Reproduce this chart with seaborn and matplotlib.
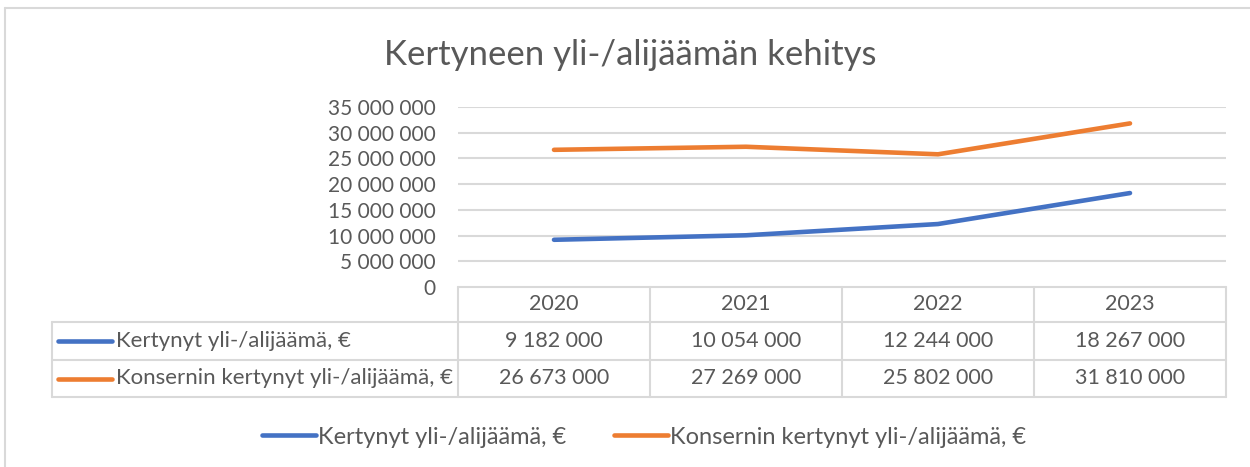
import pandas as pd
import seaborn as sns
import matplotlib.pyplot as plt
from matplotlib.lines import Line2D

years = ["2020", "2021", "2022", "2023"]
kertynyt = [9182000, 10054000, 12244000, 18267000]
konserni = [26673000, 27269000, 25802000, 31810000]
series_names = ["Kertynyt yli-/alijäämä, €", "Konsernin kertynyt yli-/alijäämä, €"]
y_ticks = [0, 5000000, 10000000, 15000000, 20000000, 25000000, 30000000, 35000000]
title = "Kertyneen yli-/alijäämän kehitys"

colors = ["#4472C4", "#ED7D31"]
text_col = "#595959"
grid_col = "#D9D9D9"


def fmt(v):
    return f"{v:,}".replace(",", " ")


df = pd.DataFrame({
    "pos": list(range(len(years))) * 2,
    "value": kertynyt + konserni,
    "series": [series_names[0]] * len(years) + [series_names[1]] * len(years),
})

sns.set_theme(style="white")
plt.rcParams["font.family"] = ["Lato", "DejaVu Sans"]

W, H = 1250, 467
fig = plt.figure(figsize=(W / 100, H / 100), dpi=100)

# chart border
fig.add_artist(Line2D([5 / W, 5 / W], [0, 1 - 8 / H], color=grid_col, lw=1.5))
fig.add_artist(Line2D([5 / W, 1], [1 - 8 / H, 1 - 8 / H], color=grid_col, lw=1.5))

ax = fig.add_axes([458 / W, 1 - 287 / H, 768 / W, 180 / H])
tax = fig.add_axes([458 / W, 1 - 397 / H, 768 / W, 110 / H], sharex=ax)

sns.lineplot(data=df, x="pos", y="value", hue="series", palette=colors, lw=3.3,
             ax=ax, legend=False, solid_capstyle="round")
ax.set_xlim(-0.5, len(years) - 0.5)
ax.set_ylim(0, 35000000)
ax.set_yticks(y_ticks)
ax.set_yticklabels([fmt(t) for t in y_ticks])
ax.tick_params(axis="y", length=0, pad=16, labelsize=15, labelcolor=text_col)
ax.tick_params(axis="x", bottom=False, labelbottom=False)
ax.set_xlabel("")
ax.set_ylabel("")
for t in y_ticks[1:]:
    ax.axhline(t, color=grid_col, lw=1.5, zorder=0)
for s in ax.spines.values():
    s.set_visible(False)

# data table below the plot
tax.set_ylim(110, 0)
tax.axis("off")
px = 1 / 192.0
x_right = len(years) - 0.5
x_left = -0.5 - 406 * px
rows = [0, 35, 73, 110]
kw = dict(color=grid_col, lw=1.5, clip_on=False)
tax.plot([-0.5, x_right], [0, 0], **kw)
tax.plot([x_left, x_right], [rows[1], rows[1]], **kw)
tax.plot([x_left, x_right], [rows[2], rows[2]], **kw)
tax.plot([x_left, x_right], [rows[3], rows[3]], **kw)
tax.plot([x_left, x_left], [rows[1], rows[3]], **kw)
for i in range(len(years) + 1):
    tax.plot([i - 0.5, i - 0.5], [0, rows[3]], **kw)

for i, yr in enumerate(years):
    tax.text(i, (rows[0] + rows[1]) / 2, yr, ha="center", va="center",
             fontsize=15.5, color=text_col)

for r, (name, vals, c) in enumerate(zip(series_names, [kertynyt, konserni], colors)):
    ymid = (rows[r + 1] + rows[r + 2]) / 2
    tax.plot([x_left + 6 * px, x_left + 60 * px], [ymid, ymid], color=c, lw=3.3,
             solid_capstyle="round", clip_on=False)
    tax.text(x_left + 64 * px, ymid, name, ha="left", va="center",
             fontsize=16, color=text_col, clip_on=False)
    for i, v in enumerate(vals):
        tax.text(i, ymid, fmt(v), ha="center", va="center", fontsize=15.5, color=text_col)

fig.text(630 / W, 1 - 55 / H, title, ha="center", va="center", fontsize=25,
         color=text_col)

handles = [Line2D([], [], color=c, lw=3.3, solid_capstyle="round") for c in colors]
leg = fig.legend(handles, series_names, loc="center", bbox_to_anchor=(644 / W, 1 - 437 / H),
                 ncol=2, frameon=False, fontsize=17, handlelength=2.3, handletextpad=0.1,
                 columnspacing=2.0)
for t in leg.get_texts():
    t.set_color(text_col)

fig.savefig("out.png", dpi=100, facecolor="white")
